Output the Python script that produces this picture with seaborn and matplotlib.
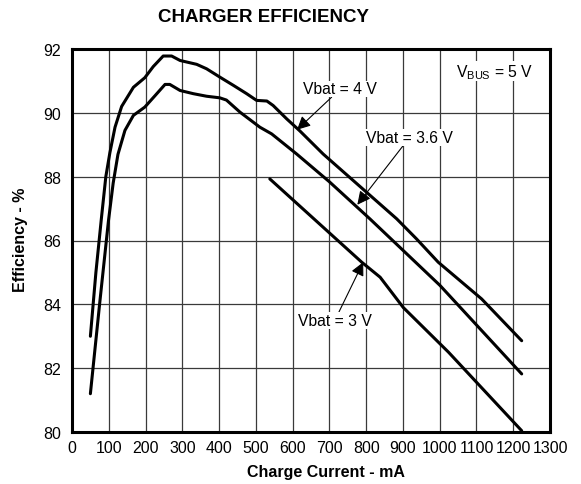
import pandas as pd
import matplotlib
matplotlib.use("Agg")
import matplotlib.pyplot as plt
import seaborn as sns

# values
current_4v = [50, 65, 80, 92, 103, 117, 135, 167, 198, 221, 248, 271, 294, 339,
              366, 402, 439, 475, 502, 530, 547, 584, 620, 683, 883, 937, 996,
              1114, 1223]
eff_4v = [83.0, 85.0, 86.7, 88.0, 88.75, 89.55, 90.2, 90.8, 91.1, 91.45, 91.78,
          91.78, 91.64, 91.52, 91.38, 91.12, 90.86, 90.6, 90.39, 90.37, 90.23,
          89.81, 89.43, 88.71, 86.68, 86.05, 85.32, 84.17, 82.86]

current_36v = [50, 75, 99, 112, 125, 144, 167, 198, 226, 253, 266, 294, 330, 366,
               402, 420, 457, 511, 543, 611, 700, 810, 1001, 1223]
eff_36v = [81.2, 84.0, 86.6, 87.8, 88.7, 89.45, 89.92, 90.18, 90.54, 90.89,
           90.89, 90.7, 90.6, 90.52, 90.47, 90.4, 90.02, 89.55, 89.34, 88.71,
           87.84, 86.68, 84.59, 81.82]

current_3v = [538, 788, 838, 901, 1024, 1100, 1223]
eff_3v = [87.93, 85.32, 84.85, 83.9, 82.5, 81.56, 80.04]

x_ticks = list(range(0, 1301, 100))
y_ticks = [80, 82, 84, 86, 88, 90, 92]

df = pd.concat([
    pd.DataFrame({"current": current_4v, "eff": eff_4v, "vbat": "4 V"}),
    pd.DataFrame({"current": current_36v, "eff": eff_36v, "vbat": "3.6 V"}),
    pd.DataFrame({"current": current_3v, "eff": eff_3v, "vbat": "3 V"}),
])

sns.set_style("white")
plt.rcParams["font.family"] = ["Liberation Sans", "DejaVu Sans"]
plt.rcParams["mathtext.fontset"] = "custom"
plt.rcParams["mathtext.rm"] = "Liberation Sans"
plt.rcParams["text.color"] = "black"
plt.rcParams["axes.labelcolor"] = "black"

fig = plt.figure(figsize=(5.81, 4.85), dpi=100)
ax = fig.add_axes([72 / 581, 1 - 433 / 485, 478 / 581, 383 / 485])

sns.lineplot(data=df, x="current", y="eff", hue="vbat", units="vbat",
             estimator=None, palette=["black"] * 3, linewidth=2.2,
             legend=False, ax=ax, zorder=3)

ax.set_xlim(0, 1300)
ax.set_ylim(80, 92)
ax.set_xticks(x_ticks)
ax.set_yticks(y_ticks)
ax.tick_params(length=0, labelsize=11.5, colors="black")
ax.tick_params(axis="x", pad=6)
ax.tick_params(axis="y", pad=8)
ax.grid(True, color="#3a3a3a", linewidth=0.9)
for s in ax.spines.values():
    s.set_linewidth(2.2)
    s.set_color("black")
    s.set_visible(True)

ax.set_xlabel("Charge Current - mA", fontsize=11.5, fontweight="bold")
ax.set_ylabel("Efficiency - %", fontsize=11.5, fontweight="bold")
ax.xaxis.set_label_coords((326 - 72) / 478, -0.083)
ax.yaxis.set_label_coords(-0.092, 0.504)

fig.text(264 / 581, 1 - 17 / 485, "CHARGER EFFICIENCY", fontsize=13.5,
         fontweight="bold", ha="center", va="center")

arrow = dict(arrowstyle="-|>", color="black", lw=0.8, mutation_scale=20,
             shrinkA=0, shrinkB=0)
box = dict(boxstyle="square,pad=0.05", fc="white", ec="none")
ax.annotate("Vbat = 4 V", xy=(612, 89.47), xytext=(730, 90.75), fontsize=11.3,
            ha="center", va="center", arrowprops=arrow, zorder=4, bbox=box)
ax.annotate("Vbat = 3.6 V", xy=(776, 87.12), xytext=(918, 89.23), fontsize=11.3,
            ha="center", va="center", arrowprops=arrow, zorder=4, bbox=box)
ax.annotate("Vbat = 3 V", xy=(792, 85.32), xytext=(715, 83.5), fontsize=11.3,
            ha="center", va="center", arrowprops=arrow, zorder=4, bbox=box)
ax.text(1150, 91.3, r"V$_{\mathrm{BUS}}$ = 5 V", fontsize=11.3, ha="center",
        va="center", zorder=4, bbox=box)

fig.savefig("out.png", dpi=100)
